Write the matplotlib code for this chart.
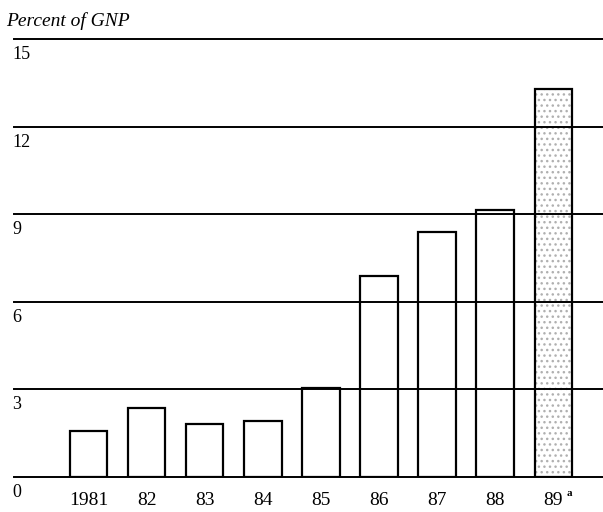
import matplotlib.pyplot as plt
from matplotlib.transforms import offset_copy

years = ['1981', '82', '83', '84', '85', '86', '87', '88', '89']
gnp_share = [1.56, 2.35, 1.83, 1.91, 3.05, 6.88, 8.39, 9.15, 13.3]
yticks = [0, 3, 6, 9, 12, 15]

plt.rcParams['font.family'] = ['Liberation Serif', 'DejaVu Serif']

fig = plt.figure(figsize=(6.03, 5.12), dpi=100)
ax = fig.add_axes([14 / 603, 35 / 512, 589 / 603, 438 / 512])

x = list(range(len(years)))

# plain bars, last one (estimate) stippled
ax.bar(x[:-1], gnp_share[:-1], width=0.64, facecolor='white',
       edgecolor='black', linewidth=1.6, zorder=2)
ax.bar(x[-1], gnp_share[-1], width=0.64, facecolor='white',
       edgecolor='#b0b0b0', hatch='...', linewidth=0, zorder=2)
ax.bar(x[-1], gnp_share[-1], width=0.64, facecolor='none',
       edgecolor='black', linewidth=1.6, zorder=3)

for v in yticks:
    ax.axhline(v, color='black', linewidth=1.4, zorder=4, clip_on=False)
    tr = offset_copy(ax.get_yaxis_transform(), fig=fig, x=-1, y=-5, units='points')
    ax.text(0, v, str(v), transform=tr, ha='left', va='top', fontsize=13)

ax.set_xlim(-1.29, 8.86)
ax.set_ylim(0, 15)
ax.set_yticks([])
ax.set_xticks(x)
ax.set_xticklabels(years, fontsize=14)
ax.tick_params(axis='x', length=0, pad=11)
for s in ax.spines.values():
    s.set_visible(False)

# footnote marker on the last year
tr = offset_copy(ax.transData, fig=fig, x=10, y=-9, units='points')
ax.text(x[-1], 0, 'a', transform=tr, fontsize=8, ha='left', va='top',
        fontweight='bold')

fig.text(6 / 603, 1 - 21 / 512, 'Percent of GNP', fontsize=14,
         style='italic', ha='left', va='center')

fig.savefig('out.png', dpi=100)
